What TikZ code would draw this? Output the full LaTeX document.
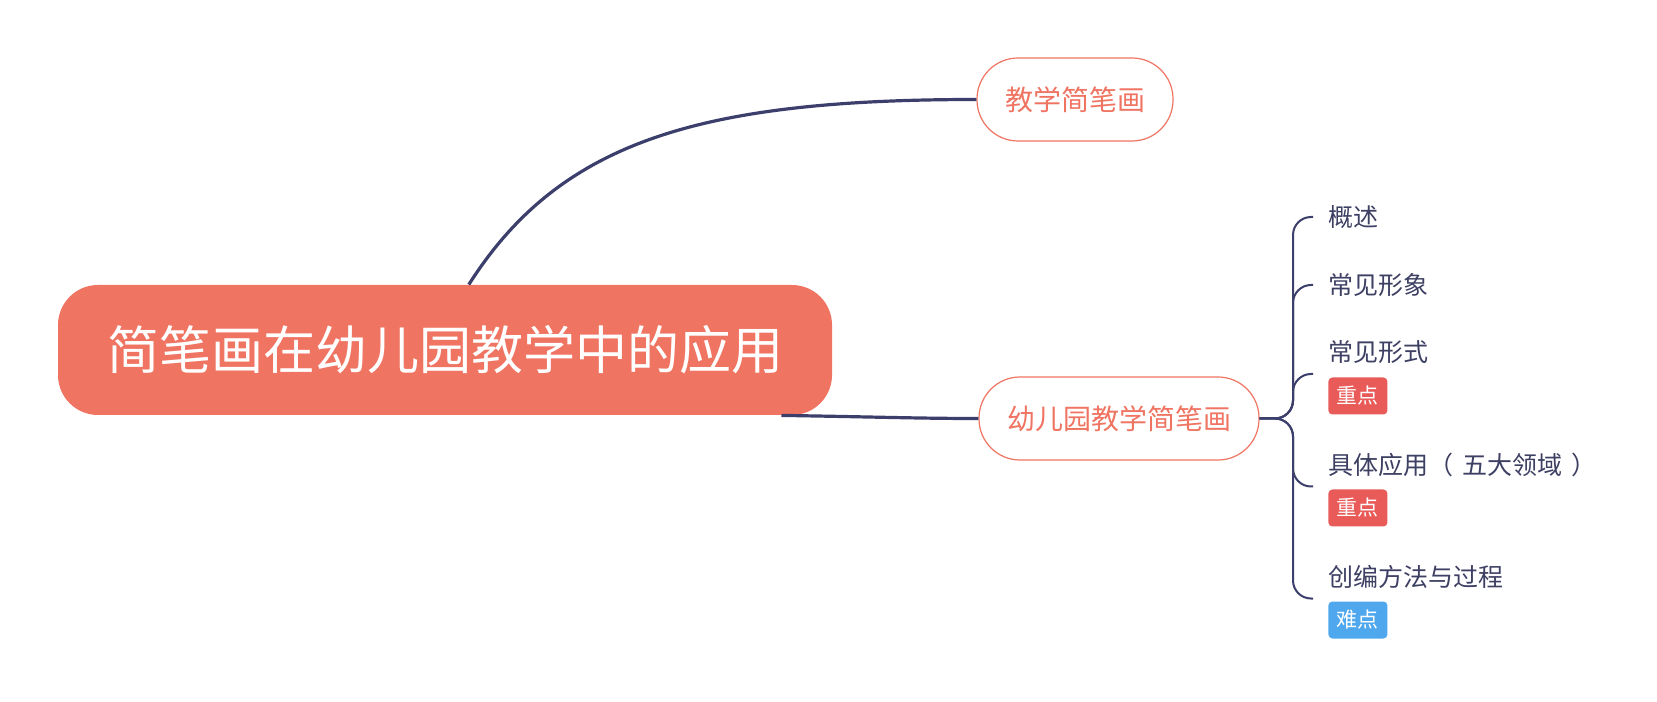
\documentclass[tikz,border=0pt]{standalone}
\usepackage{fontspec}
\setmainfont{Noto Sans CJK SC}
\usepackage{xcolor}
\usepackage{tikz}
\usetikzlibrary{calc,positioning}

\definecolor{rootred}{HTML}{F07462}
\definecolor{linkblue}{HTML}{3C3F6B}
\definecolor{leaftext}{HTML}{3D3F63}
\definecolor{tagred}{HTML}{E85B58}
\definecolor{tagblue}{HTML}{4FA8EE}

\begin{document}
\begin{tikzpicture}[
        x=0.5pt, y=0.5pt,
        rootnode/.style={
            rectangle, fill=rootred, text=white, rounded corners=20pt,
            minimum width=387pt, minimum height=65pt,
            font=\fontsize{26}{30}\selectfont
        },
        topicnode/.style={
            rectangle, draw=rootred, line width=0.6pt, fill=white, text=rootred,
            rounded corners=20.5pt, minimum height=41.5pt, inner xsep=14pt,
            font=\fontsize{14}{16}\selectfont
        },
        leafnode/.style={
            anchor=west, inner sep=0pt, text=leaftext,
            font=\fontsize{12.5}{14}\selectfont
        },
        tagnode/.style={
            anchor=west, rounded corners=2pt, text=white, inner sep=0pt,
            minimum width=29.5pt, minimum height=18.5pt,
            font=\fontsize{10.5}{12}\selectfont
        },
        link/.style={draw=linkblue, line width=1.6pt},
        brace/.style={draw=linkblue, line width=1pt, rounded corners=9pt}
    ]

    \path[use as bounding box, fill=white] (0,0) rectangle (1657,701);

    \node[rootnode] (root) at (445,351) {简笔画在幼儿园教学中的应用};

    \node[topicnode] (jiaoxue) at (1075,601.5) {教学简笔画};
    \node[topicnode] (youer) at (1119,282.5) {幼儿园教学简笔画};

    \node[leafnode] (gaishu) at (1328,484) {概述};
    \node[leafnode] (xingxiang) at (1328,416) {常见形象};
    \node[leafnode] (xingshi) at (1328,349) {常见形式};
    \node[tagnode, fill=tagred] (xingshitag) at (1328,305) {重点};
    \node[leafnode] (yingyong) at (1328,236) {具体应用（\hspace{4.5pt}五大领域\hspace{4.5pt}）};
    \node[tagnode, fill=tagred] (yingyongtag) at (1328,193) {重点};
    \node[leafnode] (chuangbian) at (1328,124) {创编方法与过程};
    \node[tagnode, fill=tagblue] (chuangbiantag) at (1328,81) {难点};

    % ramos principais
    \draw[link] (root.70) .. controls (560,560) and (700,601.5) .. (jiaoxue.west);
    \draw[link] (root.-11) .. controls (880,284) and (920,282.5) .. (youer.west);

    % chave dos subtopicos
    \coordinate (spine) at (1293,282.5);
    \foreach \leaf in {gaishu, xingxiang}
        \draw[brace] (youer.east) -- (spine) |- ([xshift=-7.5pt]\leaf.west);
    \foreach \leaf/\tg in {xingshi/xingshitag, yingyong/yingyongtag, chuangbian/chuangbiantag}
        \draw[brace] (youer.east) -- (spine) |- ($(\leaf.west)!0.5!(\tg.west)+(-15,0)$);

\end{tikzpicture}
\end{document}
